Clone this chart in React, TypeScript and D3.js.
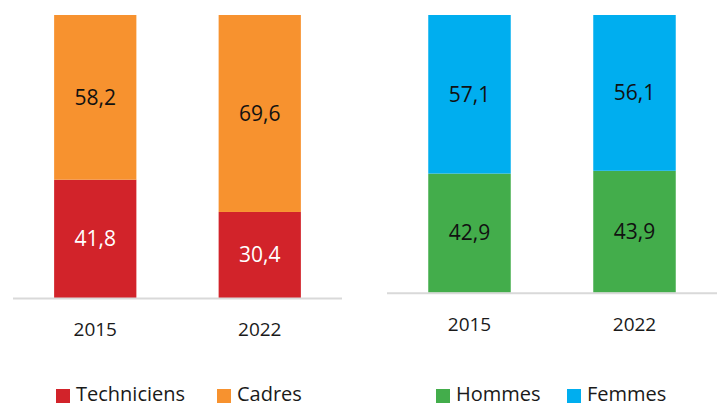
import React from "react";
import * as d3 from "d3";

const years = ["2015", "2022"];
const techniciens = [41.8, 30.4];
const cadres = [58.2, 69.6];
const hommes = [42.9, 43.9];
const femmes = [57.1, 56.1];

const FONT = "'Open Sans', 'Noto Sans', sans-serif";

type PanelProps = {
  x0: number;
  x1: number;
  baseY: number;
  bottom: number[];
  top: number[];
  bottomColor: string;
  topColor: string;
  bottomText: string;
  topText: string;
  bottomName: string;
  topName: string;
  legendX: number;
  legendGap: number;
};

function fmt(v: number) {
  return v.toFixed(1).replace(".", ",");
}

function Panel(p: PanelProps) {
  const x = d3.scaleBand<string>().domain(years).range([p.x0, p.x1]).paddingInner(0.5).paddingOuter(0.25);
  const y = d3.scaleLinear().domain([0, 100]).range([p.baseY, 15]);
  const bw = x.bandwidth();
  return (
    <g>
      {years.map((yr, i) => {
        const bx = x(yr)!;
        const b = p.bottom[i];
        const t = p.top[i];
        const cx = bx + bw / 2;
        return (
          <g key={yr}>
            <rect x={bx} y={y(b)} width={bw} height={y(0) - y(b)} fill={p.bottomColor} />
            <rect x={bx} y={y(b + t)} width={bw} height={y(b) - y(b + t)} fill={p.topColor} />
            <text x={cx} y={(y(0) + y(b)) / 2} dy="0.35em" textAnchor="middle" fontSize={21} fill={p.bottomText} fontFamily={FONT}>
              {fmt(b)}
            </text>
            <text x={cx} y={(y(b) + y(b + t)) / 2} dy="0.35em" textAnchor="middle" fontSize={21} fill={p.topText} fontFamily={FONT}>
              {fmt(t)}
            </text>
            <text x={cx} y={p.baseY + 38} textAnchor="middle" fontSize={19} fill="#1a1a1a" fontFamily={FONT}>
              {yr}
            </text>
          </g>
        );
      })}
      <line x1={p.x0} x2={p.x1} y1={p.baseY + 0.5} y2={p.baseY + 0.5} stroke="#D9D9D9" strokeWidth={2} />
      <g transform={`translate(${p.legendX},0)`}>
        <rect x={0} y={389} width={14} height={14} fill={p.bottomColor} />
        <text x={20} y={401} fontSize={20} fill="#1a1a1a" fontFamily={FONT}>{p.bottomName}</text>
        <rect x={p.legendGap} y={389} width={14} height={14} fill={p.topColor} />
        <text x={p.legendGap + 20} y={401} fontSize={20} fill="#1a1a1a" fontFamily={FONT}>{p.topName}</text>
      </g>
    </g>
  );
}

export default function App() {
  return (
    <svg width={723} height={407} style={{ position: "absolute", left: 0, top: 0, background: "#fff" }}>
      <Panel
        x0={13}
        x1={342}
        baseY={298}
        bottom={techniciens}
        top={cadres}
        bottomColor="#D2232A"
        topColor="#F7922F"
        bottomText="#ffffff"
        topText="#111111"
        bottomName="Techniciens"
        topName="Cadres"
        legendX={56}
        legendGap={161}
      />
      <Panel
        x0={387}
        x1={717}
        baseY={292.7}
        bottom={hommes}
        top={femmes}
        bottomColor="#43AD4B"
        topColor="#00AEEF"
        bottomText="#111111"
        topText="#111111"
        bottomName="Hommes"
        topName="Femmes"
        legendX={436}
        legendGap={131}
      />
    </svg>
  );
}
